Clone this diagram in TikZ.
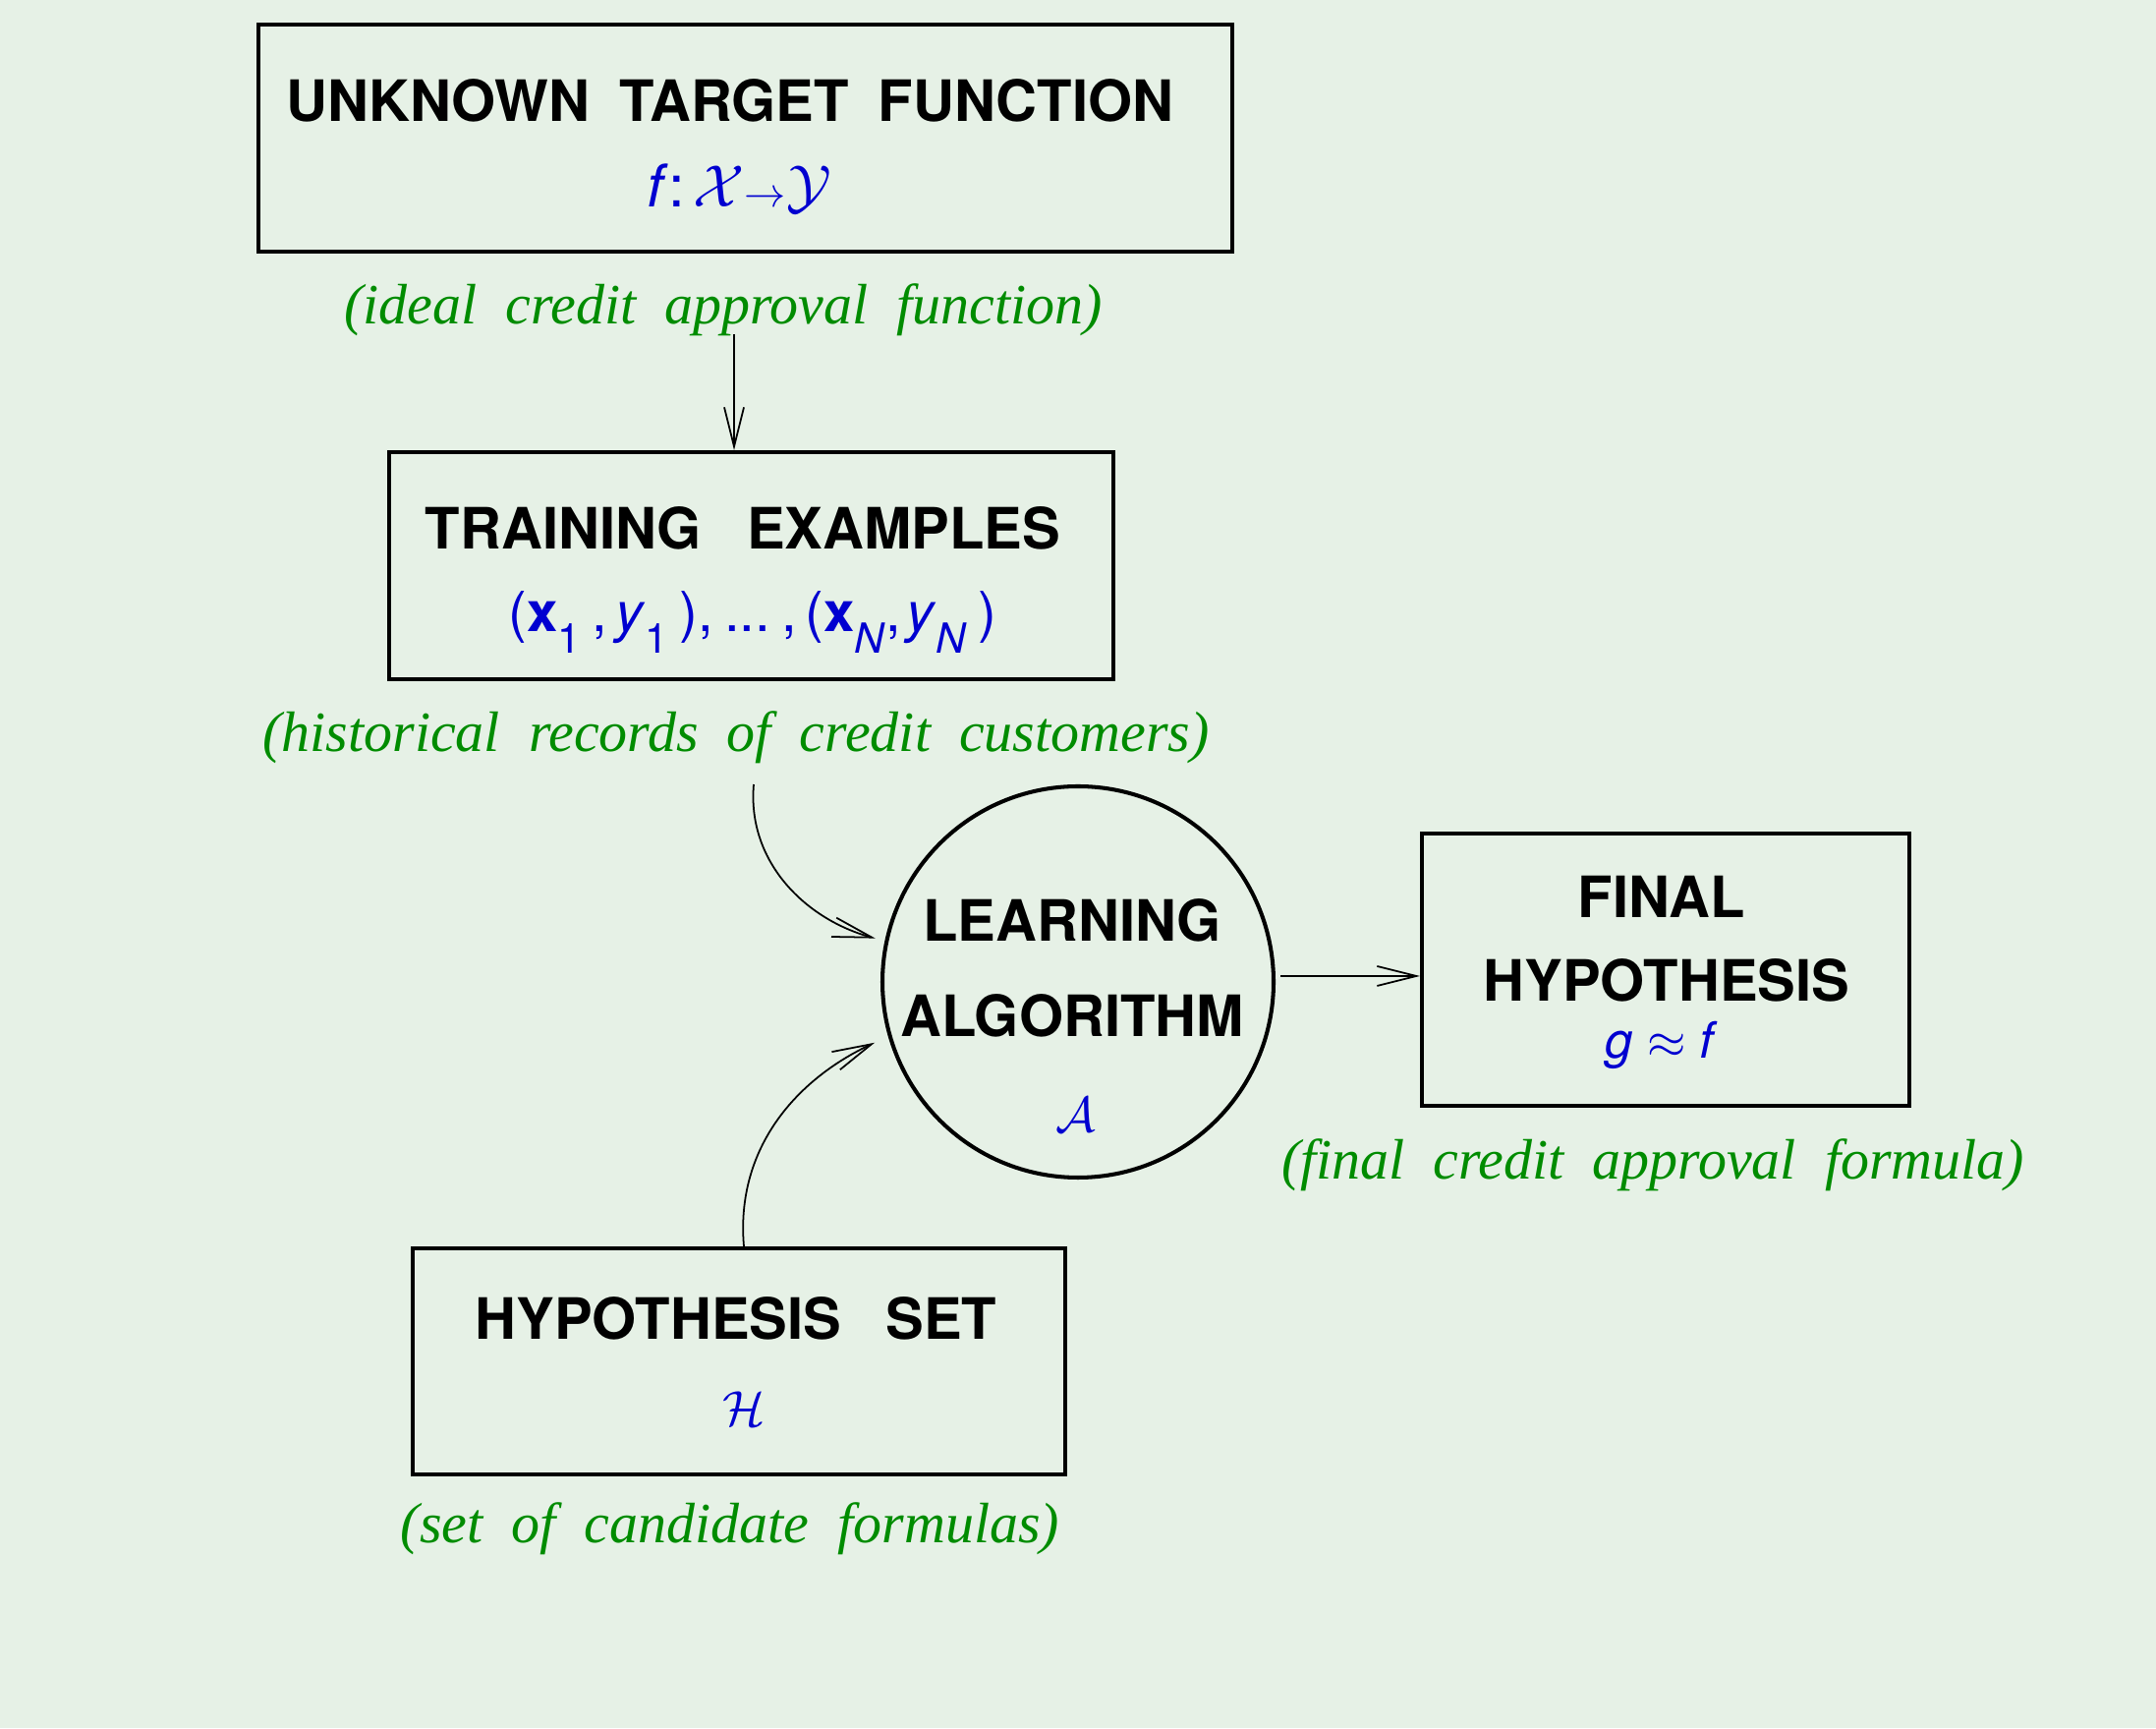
\documentclass[tikz,border=0pt]{standalone}
\usepackage{amsmath}
\usepackage{fontspec}
\setmainfont{Liberation Serif}
\setsansfont{TeX Gyre Heros}
\usetikzlibrary{arrows.meta}
\definecolor{bggreen}{RGB}{230,241,230}
\definecolor{subblue}{RGB}{0,0,208}
\definecolor{notegreen}{RGB}{0,140,0}
\newcommand{\wgap}[1]{\hspace{#1em}}
\newcommand{\lowsub}[1]{\raisebox{-0.4em}{\fontsize{12}{14}\selectfont #1}}
\tikzset{
  box/.style={draw, line width=1.15pt, inner sep=0pt},
  head/.style={font=\sffamily\bfseries\fontsize{16.5}{20}\selectfont, inner sep=0pt},
  sub/.style={text=subblue, font=\sffamily\fontsize{14.5}{17}\selectfont, inner sep=0pt},
  note/.style={text=notegreen, font=\itshape\fontsize{16.5}{20}\selectfont, inner sep=0pt},
  link/.style={line width=0.5pt, -{Straight Barb[length=4mm,width=2mm]}}
}

\begin{document}
\begin{tikzpicture}
  %%%%% START %%%%%

  \fill[bggreen] (0,0) rectangle (21.94,17.58);
  \useasboundingbox (0,0) rectangle (21.94,17.58);

  % target function
  \node[box, minimum width=9.91cm, minimum height=2.31cm] (target) at (7.585,16.175) {};
  \node[head] (targethead) at (7.43,16.56) {UNKNOWN\wgap{0.52}TARGET\wgap{0.52}FUNCTION};
  \node[sub, font=\sffamily\fontsize{17}{20}\selectfont] (targetsub) at (7.52,15.66)
    {\textit{f}:\hspace{0.15em}$\mathcal{X}{\scriptstyle\rightarrow}\mathcal{Y}$};
  \node[note] (ideal) at (7.36,14.43) {(ideal\wgap{0.5}credit\wgap{0.5}approval\wgap{0.5}function)};

  % training examples
  \node[box, minimum width=7.37cm, minimum height=2.31cm] (training) at (7.645,11.825) {};
  \node[head] (traininghead) at (7.56,12.21) {TRAINING\wgap{0.8}EXAMPLES};
  \node[sub, font=\sffamily\fontsize{16}{20}\selectfont] (trainingsub) at (7.66,11.25)
    {(\textbf{x}\lowsub{1}\wgap{0.2},\wgap{0.15}\textit{y}\lowsub{1}\wgap{0.2}),\wgap{0.2}...\wgap{0.2},\wgap{0.15}(\textbf{x}\lowsub{\textit{N}},\wgap{0.1}\textit{y}\lowsub{\textit{N}}\wgap{0.2})};
  \node[note] (records) at (7.49,10.08) {(historical\wgap{0.5}records\wgap{0.5}of\wgap{0.5}credit\wgap{0.5}customers)};

  % learning algorithm
  \node[draw, circle, line width=1.15pt, minimum size=3.98cm, inner sep=0pt] (algo) at (10.97,7.59) {};
  \node[head] (algohead1) at (10.91,8.22) {LEARNING};
  \node[head] (algohead2) at (10.91,7.25) {ALGORITHM};
  \node[sub] (algosub) at (10.95,6.24) {$\mathcal{A}$};

  % final hypothesis
  \node[box, minimum width=4.96cm, minimum height=2.77cm] (final) at (16.95,7.715) {};
  \node[head] (finalhead1) at (16.91,8.46) {FINAL};
  \node[head] (finalhead2) at (16.96,7.61) {HYPOTHESIS};
  \node[sub] (finalsub) at (16.91,6.95) {\textit{g} $\approx$ \textit{f}};
  \node[note] (formula) at (16.82,5.73) {(final\wgap{0.5}credit\wgap{0.5}approval\wgap{0.5}formula)};

  % hypothesis set
  \node[box, minimum width=6.64cm, minimum height=2.30cm] (hypset) at (7.52,3.73) {};
  \node[head] (hypsethead) at (7.49,4.17) {HYPOTHESIS\wgap{0.78}SET};
  \node[sub] (hypsetsub) at (7.57,3.25) {$\mathcal{H}$};
  \node[note] (candidates) at (7.43,2.03) {(set\wgap{0.5}of\wgap{0.5}candidate\wgap{0.5}formulas)};

  % arrows
  \coordinate (idealout) at (7.47,14.18);
  \coordinate (recordsout) at (7.67,9.60);
  \draw[link] (idealout) -- (idealout |- training.north);
  \draw[link, shorten >=1mm] (recordsout) to[out=-95, in=165] (algo.168);
  \draw[link, shorten >=1.5mm] ([xshift=0.05cm]hypset.north) to[out=95, in=-155] (algo.196);
  \draw[link, shorten <=0.5mm] ([yshift=0.6mm]algo.east) -- ([yshift=0.6mm]algo.east -| final.west);

  %%%%% END %%%%%
\end{tikzpicture}
\end{document}
